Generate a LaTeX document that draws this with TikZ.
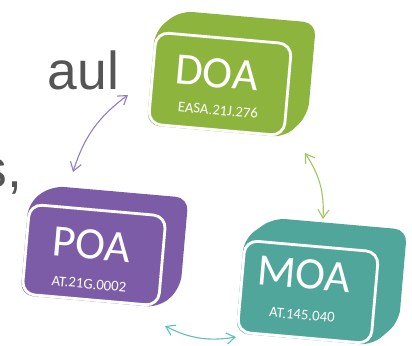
\documentclass[tikz,border=0pt]{standalone}
\usepackage{fontspec}
\setmainfont{Carlito}
\newfontfamily\slidefont{Liberation Sans}
\usetikzlibrary{arrows.meta}

\definecolor{doacolor}{RGB}{141,181,62}
\definecolor{poacolor}{RGB}{124,92,166}
\definecolor{moacolor}{RGB}{80,166,154}
\definecolor{doaarrow}{RGB}{165,198,95}
\definecolor{poaarrow}{RGB}{148,128,192}
\definecolor{moaarrow}{RGB}{96,192,192}
\definecolor{slidegray}{RGB}{85,85,85}

\begin{document}
\begin{tikzpicture}[x=0.025cm,y=-0.025cm,
  front/.style={rectangle,rounded corners=9pt,draw=white,line width=2pt,inner sep=0pt,rotate=-5},
  back/.style={rectangle,rounded corners=9pt,inner sep=0pt,rotate=-5},
  bigtag/.style={text=white,inner sep=0pt,rotate=-5,font=\fontsize{32}{32}\selectfont},
  smalltag/.style={text=white,inner sep=0pt,rotate=-5,font=\fontsize{10.5}{10.5}\selectfont},
  link/.style={<->,>={Straight Barb[length=6pt,width=8pt]},line width=0.8pt}]
  \useasboundingbox (0,0) rectangle (412,346);
  % Slide text (cut off at the left)
  \node at(124,90)[anchor=base east,text=slidegray,font=\slidefont\fontsize{38}{38}\selectfont](line1){aul};
  \node at(27,188)[anchor=base east,text=slidegray,font=\slidefont\fontsize{38}{38}\selectfont](line2){s,};
  % DOA box
  \node at(244,63)[back,minimum width=3.4cm,minimum height=2.3cm](doab){};
  \node at(220,84)[front,minimum width=3.4cm,minimum height=2.3cm](doa){};
  \fill[doacolor,rounded corners=9pt] (doa.north west) -- (doab.north west) -- (doab.north east) -- (doab.south east) -- (doa.south east) -- (doa.south west) -- cycle;
  \node at(220,84)[front,fill=doacolor,minimum width=3.4cm,minimum height=2.3cm]{};
  \node at(217,73)[bigtag](doaname){DOA};
  \node at(218,110)[smalltag](doanum){EASA.21J.276};
  % POA box
  \node at(116,237)[back,minimum width=3.42cm,minimum height=2.25cm](poab){};
  \node at(94,255)[front,minimum width=3.42cm,minimum height=2.25cm](poa){};
  \fill[poacolor,rounded corners=9pt] (poa.north west) -- (poab.north west) -- (poab.north east) -- (poab.south east) -- (poa.south east) -- (poa.south west) -- cycle;
  \node at(94,255)[front,fill=poacolor,minimum width=3.42cm,minimum height=2.25cm]{};
  \node at(92,245)[bigtag](poaname){POA};
  \node at(89,284)[smalltag](poanum){AT.21G.0002};
  % MOA box
  \node at(336,270)[back,minimum width=3.35cm,minimum height=2.3cm](moab){};
  \node at(308,292)[front,minimum width=3.35cm,minimum height=2.3cm](moa){};
  \fill[moacolor,rounded corners=9pt] (moa.north west) -- (moab.north west) -- (moab.north east) -- (moab.south east) -- (moa.south east) -- (moa.south west) -- cycle;
  \node at(308,292)[front,fill=moacolor,minimum width=3.35cm,minimum height=2.3cm]{};
  \node at(304,274)[bigtag](moaname){MOA};
  \node at(302,315)[smalltag](moanum){AT.145.040};
  % Arrows between the boxes
  \coordinate (p1) at (128,95);
  \coordinate (p2) at (73,172);
  \coordinate (g1) at (305,153);
  \coordinate (g2) at (323,219);
  \coordinate (t1) at (165,326);
  \coordinate (t2) at (236,337);
  \draw[link,poaarrow] (p1) to[bend right=18] (p2);
  \draw[link,doaarrow] (g1) to[bend left=18] (g2);
  \draw[link,moaarrow] (t1) to[bend right=18] (t2);
\end{tikzpicture}
\end{document}
